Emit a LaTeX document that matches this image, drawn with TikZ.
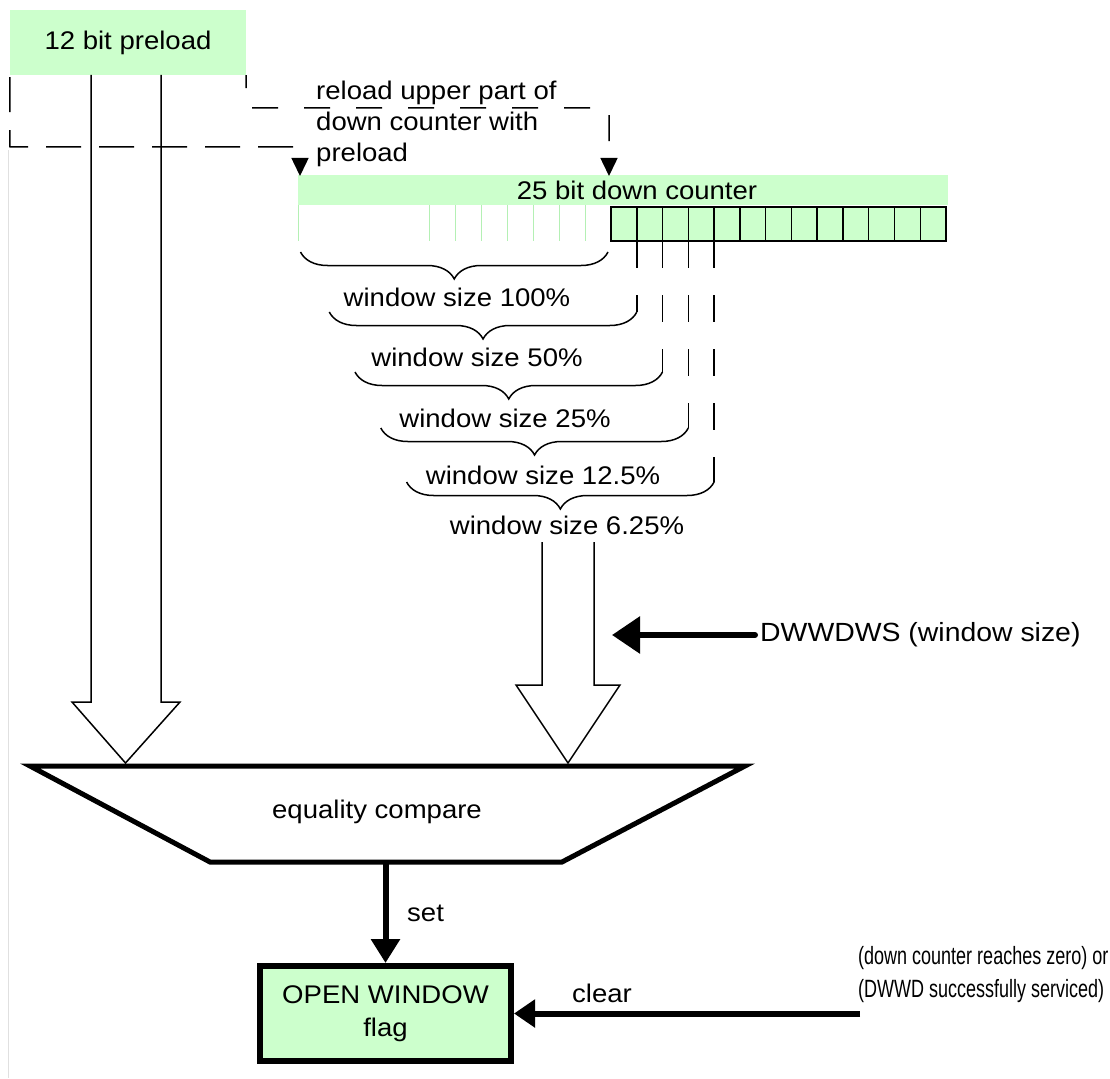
\documentclass[tikz,border=0pt]{standalone}
\usepackage{fontspec}
\setmainfont{Liberation Sans}[FakeStretch=1.08]
\newfontfamily\narrowfont{Liberation Sans}[FakeStretch=0.72]
\usetikzlibrary{arrows.meta,decorations.pathreplacing}
\definecolor{lgreen}{HTML}{CCFFCC}
\definecolor{gline}{HTML}{B4F0B4}
\begin{document}
\begin{tikzpicture}[x=1pt,y=-1pt,
  txt/.style={font=\fontsize{25.5}{31}\selectfont, inner sep=0pt},
  hollow/.style={draw=black, line width=1.5pt, line join=miter},
  brc/.style={decorate, decoration={brace, amplitude=27pt}, line width=1.5pt},
  vdash/.style={line width=1.5pt, dash pattern=on 27pt off 27pt},
  dashA/.style={line width=1.5pt, dash pattern=on 35pt off 18pt, dash phase=51pt},
  dashB/.style={line width=1.5pt, dash pattern=on 26pt off 26pt, dash phase=13pt},
  heavy/.style={line width=6pt},
  cellbox/.style={fill=lgreen, draw=black, line width=1.5pt},
  gridln/.style={draw=gline, line width=1pt},
]
\useasboundingbox (0,0) rectangle (1110,1078);
\draw[black!12, line width=1pt] (8.5,150) -- (8.5,1078);

% 12 bit preload
\node[txt, fill=lgreen, minimum width=236pt, minimum height=65pt] (preload) at (128,42.5) {12 bit preload};

% 25 bit down counter
\node[fill=lgreen, minimum width=650pt, minimum height=30pt, inner sep=0pt] (bar) at (623,190) {};
\node[txt] (cntlbl) at (637,190) {25 bit down counter};
\foreach \x in {298,429,455,481,507,533,559,585}
  \draw[gridln] (\x,205) -- (\x,241);
\foreach \i in {0,...,12}
  \draw[cellbox] (611+25.77*\i,207) rectangle ++(25.77,34);

% reload paths
\coordinate (cornerA) at (10,147);
\coordinate (tipA) at (300,176);
\coordinate (cornerB) at (246,108);
\coordinate (tipB) at (609,176);
\draw[dashA, -{Triangle[length=18pt,width=17pt]}] (preload.south west) -- (cornerA) -| (tipA);
\draw[dashB, -{Triangle[length=18pt,width=17pt]}] (preload.south east) -- (cornerB) -| (tipB);
\node[txt, anchor=north west, align=left] (reload) at (316,81) {reload upper part of\\down counter with\\preload};

% braces and window sizes
\foreach \r/\t in {608/252, 636.8/312, 662.5/372, 688.3/428, 714.1/482}
  \draw[brc] (\r,\t) -- (\r-307.5,\t);
\foreach \x/\b in {636.8/312, 662.5/372, 688.3/428, 714.1/482}
  \draw[vdash] (\x,241) -- (\x,\b);
\node[txt] (w100) at (457,297) {window size 100\%};
\node[txt] (w50) at (477,357) {window size 50\%};
\node[txt] (w25) at (505,418) {window size 25\%};
\node[txt] (w125) at (543,475) {window size 12.5\%};
\node[txt] (w625) at (567,525) {window size 6.25\%};

% hollow arrows
\coordinate (tipL) at (125.5,763);
\draw[hollow] (91,75) -- (91,702) -- (72,702) -- (tipL) -- (180,702) -- (161,702) -- (161,75);
\coordinate (tipR) at (568,763);
\draw[hollow] (542,542) -- (542,685) -- (516,685) -- (tipR) -- (620,685) -- (594,685) -- (594,542);

% DWWDWS
\coordinate (dwsrc) at (755,635);
\coordinate (dwtip) at (612,635);
\draw[heavy, line cap=round, -{Triangle[length=28pt,width=36pt]}] (dwsrc) -- (dwtip);
\node[txt, font=\fontsize{26.3}{31}\selectfont, anchor=west] (dws) at (760,635) {DWWDWS (window size)};

% equality compare
\draw[line width=5pt, line join=miter] (30,766) -- (745,766) -- (562,862) -- (210,862) -- cycle;
\node[txt] (cmp) at (377,812) {equality compare};
\coordinate (cmpbot) at (385.5,862);

% flag
\node[txt, font=\fontsize{25.5}{33}\selectfont, draw, line width=6pt, fill=lgreen, minimum width=251pt, minimum height=95pt, align=center] (flag) at (385.5,1013.5) {OPEN WINDOW\\flag};
\draw[heavy, -{Triangle[length=24pt,width=28pt]}] (cmpbot) -- (flag.north);
\node[txt, anchor=west] (setl) at (407,913) {set};

\coordinate (clrsrc) at (860,1013.5);
\draw[heavy, -{Triangle[length=21pt,width=27pt]}] (clrsrc) -- (flag.east);
\node[txt, anchor=west] (clrl) at (572,993) {clear};
\node[font=\narrowfont\fontsize{25}{33}\selectfont, inner sep=0pt, anchor=west, align=left] (cond) at (858,975) {(down counter reaches zero) or\\(DWWD successfully serviced)};
\end{tikzpicture}
\end{document}
